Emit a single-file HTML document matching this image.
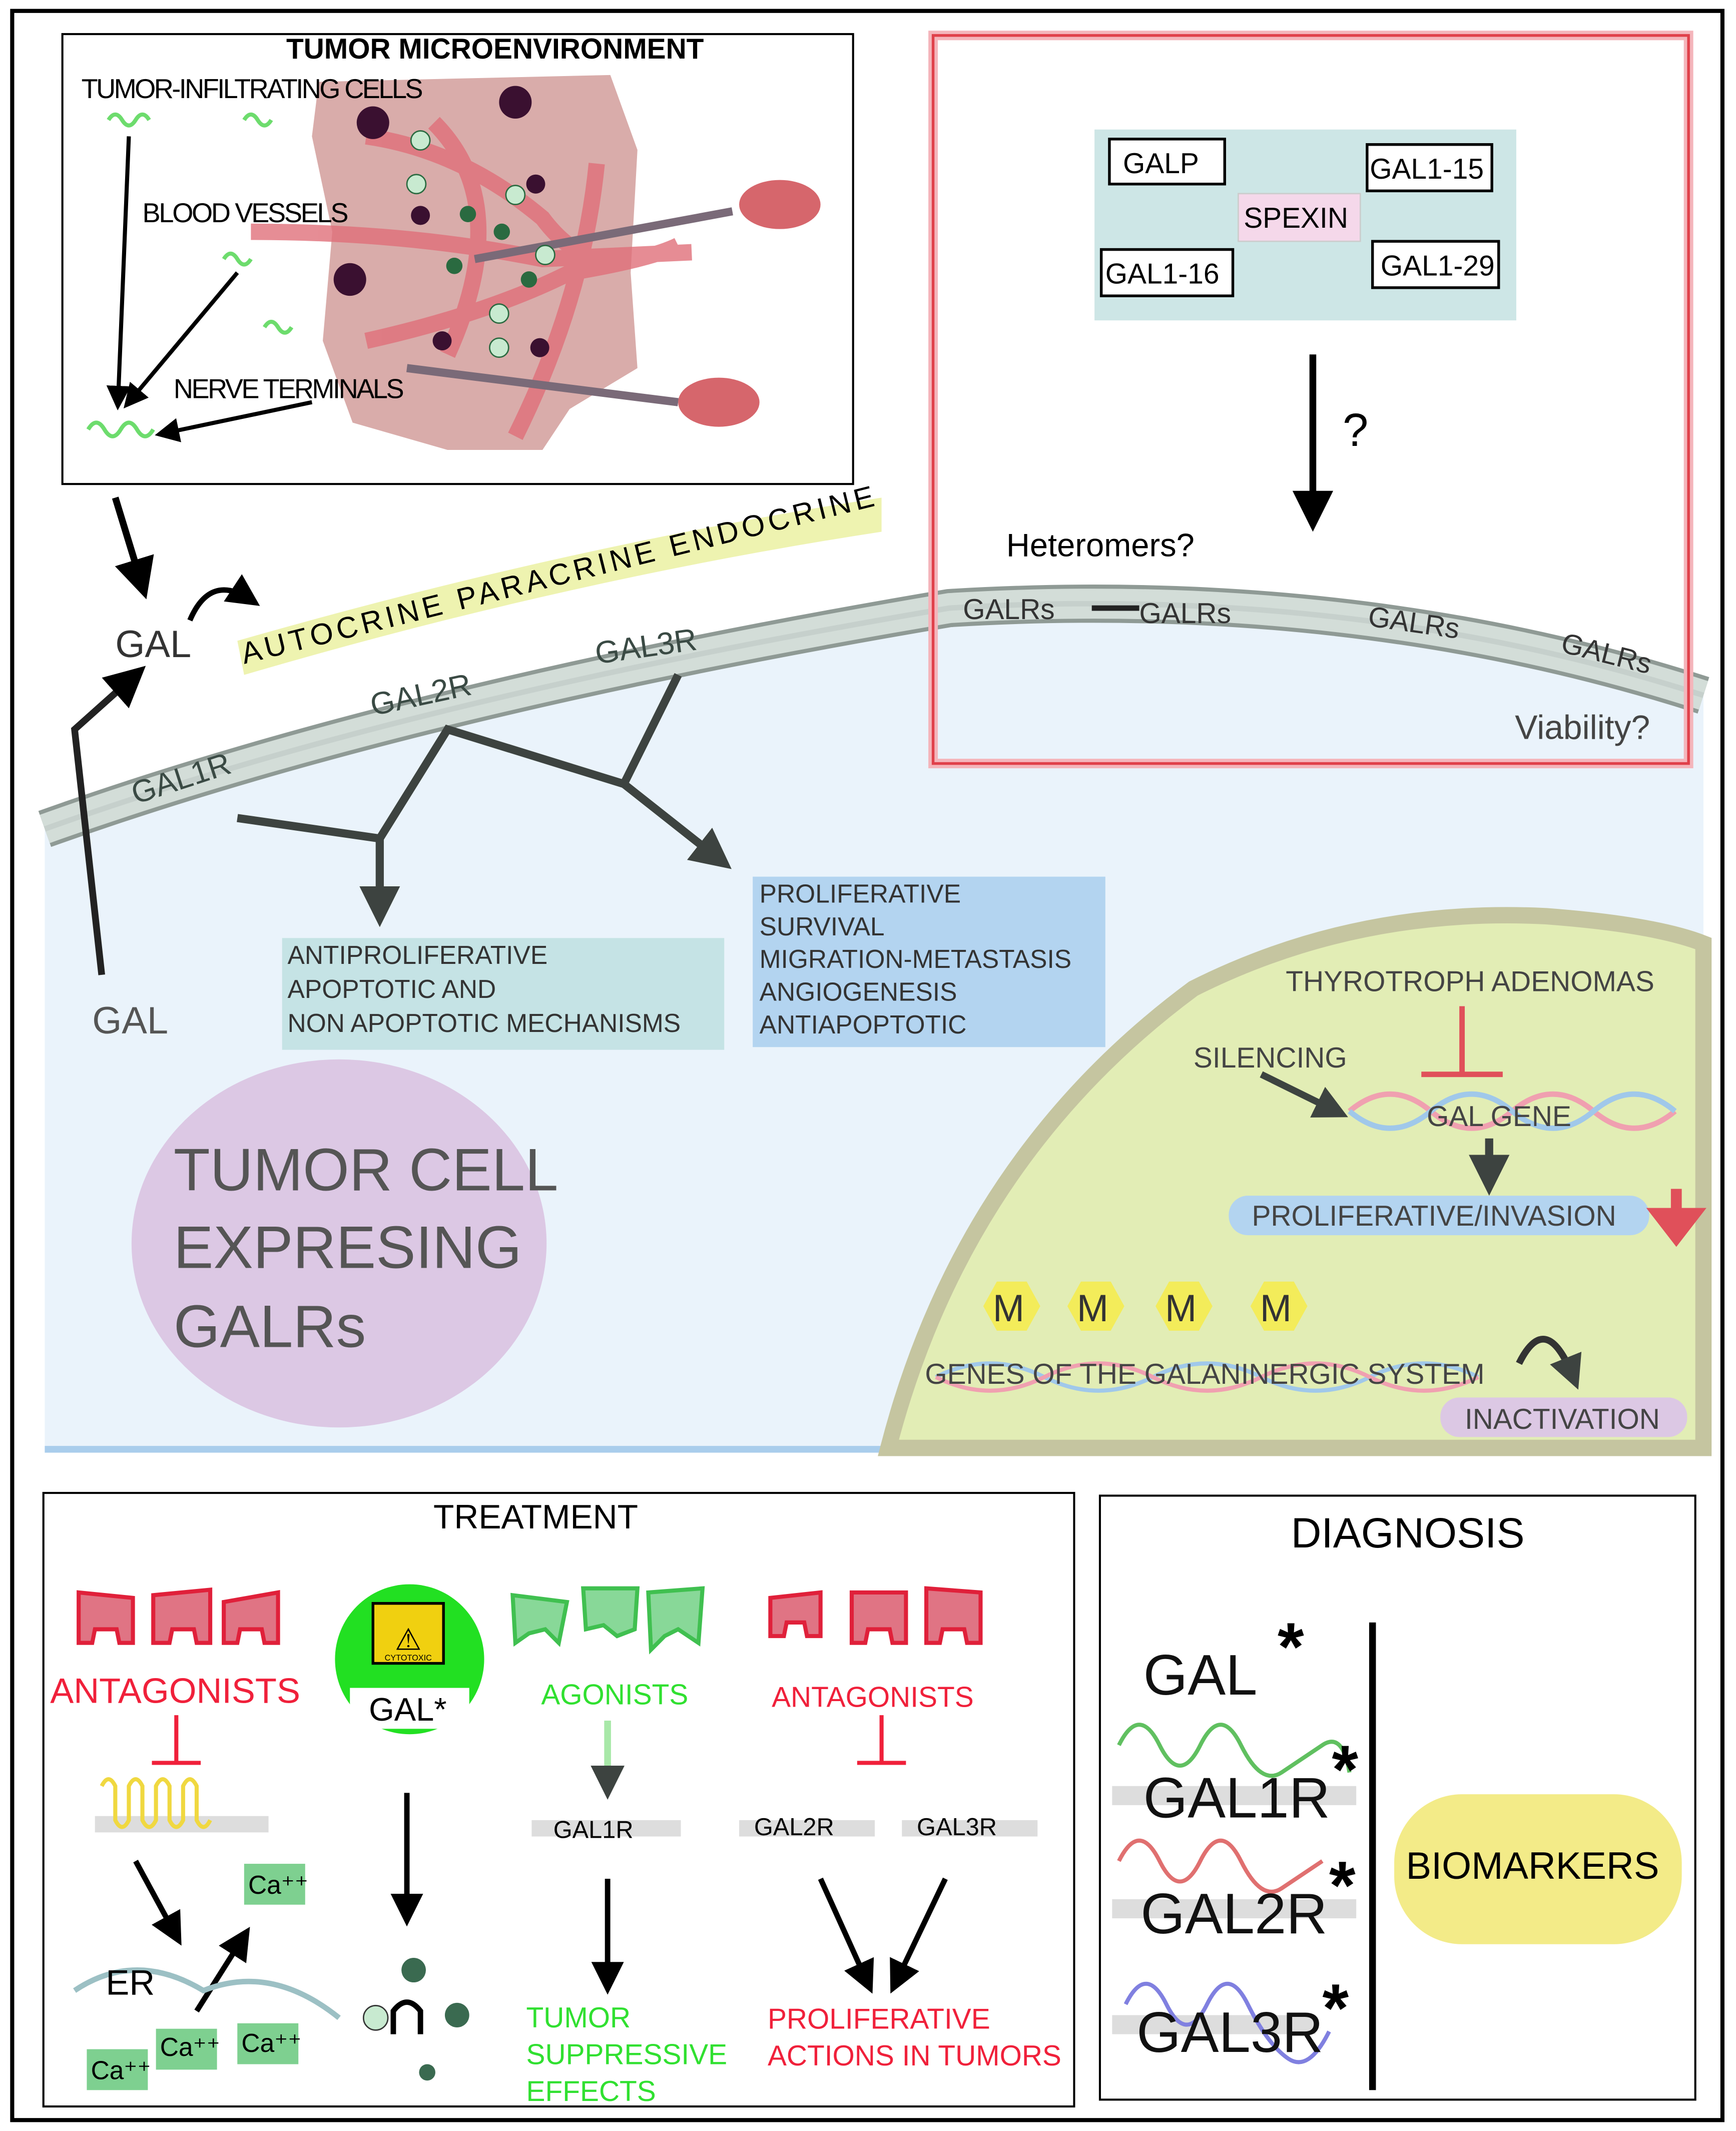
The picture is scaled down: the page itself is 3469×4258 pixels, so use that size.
<!DOCTYPE html>
<html><head><meta charset="utf-8"><style>
html,body{margin:0;padding:0;background:#fff;}
svg{display:block;}
text{font-family:"Liberation Sans",Arial,sans-serif;}
</style></head><body>
<svg width="3469" height="4258" viewBox="0 0 1280 1563" preserveAspectRatio="none" xmlns="http://www.w3.org/2000/svg">
<defs>
<marker id="ah" markerWidth="6" markerHeight="6" refX="4" refY="3" orient="auto" markerUnits="strokeWidth"><path d="M0,0 L6,3 L0,6 z" fill="#000"/></marker>
<marker id="ahg" markerWidth="5" markerHeight="5" refX="3" refY="2.5" orient="auto" markerUnits="strokeWidth"><path d="M0,0 L5,2.5 L0,5 z" fill="#3d4340"/></marker>
</defs>
<rect x="0" y="0" width="1280" height="1563" fill="#fff"/>
<rect x="9" y="8" width="1261" height="1547" fill="none" stroke="#000" stroke-width="3"/>

<path d="M33,595 Q300,500 700,437 Q1000,420 1256,500 L1256,1063 L33,1063 Z" fill="#eaf3fb"/>
<line x1="33" y1="1063" x2="1256" y2="1063" stroke="#a9cdec" stroke-width="5"/>
<path d="M33,608 Q300,513 700,446 Q1000,428 1256,510" fill="none" stroke="#8f9a95" stroke-width="28"/>
<path d="M33,608 Q300,513 700,446 Q1000,428 1256,510" fill="none" stroke="#d3ddd8" stroke-width="22"/>
<path d="M33,608 Q300,513 700,446 Q1000,428 1256,510" fill="none" stroke="#c6d0cc" stroke-width="4"/>

<path d="M655,1062 Q710,850 880,725 Q1000,665 1140,672 Q1220,678 1256,692 L1256,1062 Z" fill="#e2edb5" stroke="#c5c5a0" stroke-width="12"/>

<rect x="46" y="25" width="583" height="330" fill="#fff" stroke="#000" stroke-width="1.5"/>
<path d="M235,60 L450,55 L470,110 L465,200 L470,270 L420,300 L400,330 L330,330 L260,310 L238,250 L245,170 L230,100 Z" fill="#d9acaa"/>
<g fill="none" stroke="#e0707a" stroke-width="12" opacity="0.8">
<path d="M270,100 Q340,110 400,160 Q430,200 470,190"/>
<path d="M185,170 Q300,170 400,190 L510,185"/>
<path d="M320,90 Q380,150 330,260"/>
<path d="M440,120 Q430,220 380,320"/>
<path d="M270,250 Q360,230 420,200 Q480,190 500,180"/>
</g>
<line x1="350" y1="190" x2="540" y2="155" stroke="#7a6a78" stroke-width="6"/>
<line x1="300" y1="270" x2="500" y2="295" stroke="#7a6a78" stroke-width="6"/>
<g fill="#d6666c"><ellipse cx="575" cy="150" rx="30" ry="18"/><ellipse cx="530" cy="295" rx="30" ry="18"/></g>
<g fill="#3a1030"><circle cx="275" cy="90" r="12"/><circle cx="380" cy="75" r="12"/><circle cx="258" cy="205" r="12"/><circle cx="310" cy="158" r="7"/><circle cx="395" cy="135" r="7"/><circle cx="326" cy="250" r="7"/><circle cx="398" cy="255" r="7"/></g>
<g fill="#2a6a40"><circle cx="345" cy="157" r="6"/><circle cx="335" cy="195" r="6"/><circle cx="390" cy="205" r="6"/><circle cx="370" cy="170" r="6"/></g>
<g fill="#c8ead0" stroke="#2a6a40"><circle cx="310" cy="103" r="7"/><circle cx="307" cy="135" r="7"/><circle cx="380" cy="143" r="7"/><circle cx="402" cy="187" r="7"/><circle cx="368" cy="230" r="7"/><circle cx="368" cy="255" r="7"/></g>
<g fill="none" stroke="#6ddc6d" stroke-width="3"><path d="M80,88 q5,-8 10,0 t10,0 t10,0"/><path d="M180,88 q5,-8 10,0 t10,0"/><path d="M165,190 q5,-8 10,0 t10,0"/><path d="M195,240 q5,-8 10,0 t10,0"/><path d="M65,315 q6,-10 12,0 t12,0 t12,0 t12,0"/></g>
<text x="365" y="43" font-size="21" text-anchor="middle" font-weight="bold">TUMOR MICROENVIRONMENT</text>
<text x="60" y="72" font-size="20" textLength="252">TUMOR-INFILTRATING CELLS</text>
<text x="105" y="163" font-size="20" textLength="152">BLOOD VESSELS</text>
<text x="128" y="292" font-size="20" textLength="170">NERVE TERMINALS</text>
<g stroke="#000" stroke-width="3" marker-end="url(#ah)"><line x1="95" y1="100" x2="87" y2="295"/><line x1="175" y1="200" x2="95" y2="295"/><line x1="230" y1="295" x2="120" y2="318"/></g>

<rect x="688" y="26" width="557" height="534" fill="none" stroke="#f4b5bb" stroke-width="7"/>
<rect x="688" y="26" width="557" height="534" fill="none" stroke="#e0404a" stroke-width="2"/>
<rect x="807" y="95" width="311" height="140" fill="#cde6e6"/>
<g stroke="#000" stroke-width="2" fill="#fff">
<rect x="818" y="102" width="85" height="33"/><rect x="1008" y="106" width="92" height="34"/><rect x="812" y="183" width="97" height="34"/><rect x="1012" y="177" width="93" height="34"/></g>
<rect x="913" y="142" width="90" height="35" fill="#f5d8ea" stroke="#ccc"/>
<g font-size="21"><text x="828" y="127">GALP</text><text x="1010" y="131">GAL1-15</text><text x="917" y="167">SPEXIN</text><text x="815" y="208">GAL1-16</text><text x="1018" y="202">GAL1-29</text></g>
<line x1="968" y1="260" x2="968" y2="380" stroke="#000" stroke-width="5" marker-end="url(#ah)"/>
<text x="990" y="327" font-size="34">?</text>
<text x="742" y="408" font-size="24">Heteromers?</text>
<text x="1117" y="542" font-size="25" fill="#444">Viability?</text>
<g font-size="21" fill="#333"><text x="710" y="454">GALRs</text><text x="840" y="457">GALRs</text><line x1="805" y1="446" x2="840" y2="446" stroke="#222" stroke-width="4"/>
<text x="1008" y="459" transform="rotate(8 1008 459)">GALRs</text><text x="1150" y="478" transform="rotate(14 1150 478)">GALRs</text></g>

<path d="M175,470 Q420,400 650,365 L650,390 Q420,425 180,495 Z" fill="#eef3b0"/>
<text x="180" y="487" font-size="22" transform="rotate(-14 180 487)" textLength="480">AUTOCRINE  PARACRINE  ENDOCRINE</text>
<text x="85" y="482" font-size="28" fill="#333">GAL</text>
<text x="68" y="758" font-size="28" fill="#555">GAL</text>
<line x1="85" y1="365" x2="105" y2="430" stroke="#000" stroke-width="5" marker-end="url(#ah)"/>
<path d="M140,455 Q155,420 185,440" fill="none" stroke="#000" stroke-width="4" marker-end="url(#ah)"/>
<path d="M75,715 L55,535 L100,495" fill="none" stroke="#222" stroke-width="5" marker-end="url(#ah)"/>
<g font-size="23" fill="#3a4a44">
<text x="100" y="590" transform="rotate(-18 100 590)">GAL1R</text>
<text x="275" y="525" transform="rotate(-12 275 525)">GAL2R</text>
<text x="440" y="487" transform="rotate(-8 440 487)">GAL3R</text></g>

<g stroke="#3d4340" stroke-width="6" fill="none">
<path d="M175,600 L280,615"/><path d="M280,615 L330,535 L460,575"/><path d="M460,575 L500,495"/>
<path d="M280,615 L280,668" marker-end="url(#ahg)"/><path d="M460,575 L530,630" marker-end="url(#ahg)"/></g>
<rect x="208" y="688" width="326" height="82" fill="#c5e3e5"/>
<g font-size="19" fill="#333"><text x="212" y="707">ANTIPROLIFERATIVE</text><text x="212" y="732">APOPTOTIC AND</text><text x="212" y="757">NON APOPTOTIC MECHANISMS</text></g>
<rect x="555" y="643" width="260" height="125" fill="#b3d4f0"/>
<g font-size="19" fill="#333"><text x="560" y="662">PROLIFERATIVE</text><text x="560" y="686">SURVIVAL</text><text x="560" y="710">MIGRATION-METASTASIS</text><text x="560" y="734">ANGIOGENESIS</text><text x="560" y="758">ANTIAPOPTOTIC</text></g>

<ellipse cx="250" cy="912" rx="153" ry="135" fill="#dcc8e4"/>
<g font-size="44" fill="#555"><text x="128" y="873">TUMOR CELL</text><text x="128" y="930">EXPRESING</text><text x="128" y="988">GALRs</text></g>

<text x="948" y="727" font-size="21" fill="#444">THYROTROPH ADENOMAS</text>
<path d="M1078,738 L1078,788 M1048,788 L1108,788" stroke="#e0505a" stroke-width="4" fill="none"/>
<text x="880" y="783" font-size="21" fill="#444">SILENCING</text>
<line x1="930" y1="788" x2="985" y2="815" stroke="#3d4340" stroke-width="5" marker-end="url(#ahg)"/>
<path d="M995,815 q30,-25 60,0 t60,0 t60,0 t60,0" fill="none" stroke="#f0a0b0" stroke-width="4"/>
<path d="M995,815 q30,25 60,0 t60,0 t60,0 t60,0" fill="none" stroke="#a0c8ea" stroke-width="4"/>
<text x="1052" y="826" font-size="21" fill="#444">GAL GENE</text>
<line x1="1098" y1="835" x2="1098" y2="865" stroke="#3d4340" stroke-width="6" marker-end="url(#ahg)"/>
<rect x="906" y="877" width="310" height="29" rx="14" fill="#b3d4f0"/>
<text x="923" y="899" font-size="21" fill="#444">PROLIFERATIVE/INVASION</text>
<path d="M1236,872 L1236,890 M1222,890 L1250,890 L1236,908 Z" stroke="#e0505a" stroke-width="8" fill="#e0505a"/>
<g fill="#f3ec5a"><polygon points="725,958 735,940 757,940 767,958 757,976 735,976"/><polygon points="787,958 797,940 819,940 829,958 819,976 797,976"/><polygon points="852,958 862,940 884,940 894,958 884,976 862,976"/><polygon points="922,958 932,940 954,940 964,958 954,976 932,976"/></g>
<g font-size="28" fill="#333"><text x="732" y="969">M</text><text x="794" y="969">M</text><text x="859" y="969">M</text><text x="929" y="969">M</text></g>
<path d="M690,1010 q40,-20 80,0 t80,0 t80,0 t80,0 t80,0" fill="none" stroke="#a0c8ea" stroke-width="3"/>
<path d="M690,1010 q40,20 80,0 t80,0 t80,0 t80,0 t80,0" fill="none" stroke="#f0a0b0" stroke-width="3"/>
<text x="682" y="1015" font-size="21" fill="#444">GENES OF THE GALANINERGIC SYSTEM</text>
<path d="M1120,1000 Q1140,960 1160,1010" fill="none" stroke="#333" stroke-width="5" marker-end="url(#ahg)"/>
<rect x="1062" y="1025" width="182" height="29" rx="14" fill="#dcc8e4"/>
<text x="1080" y="1048" font-size="21" fill="#444">INACTIVATION</text>

<rect x="32" y="1095" width="760" height="450" fill="#fff" stroke="#000" stroke-width="1.5"/>
<text x="395" y="1121" font-size="25" text-anchor="middle">TREATMENT</text>
<g fill="#e07484" stroke="#e0203a" stroke-width="3">
<path d="M58,1168 L98,1172 L98,1205 L88,1205 L86,1195 L70,1195 L68,1205 L58,1205 Z"/>
<path d="M113,1170 L155,1166 L155,1205 L145,1205 L143,1195 L127,1195 L125,1205 L113,1205 Z"/>
<path d="M165,1175 L205,1168 L205,1205 L195,1205 L193,1195 L177,1195 L175,1205 L165,1205 Z"/>
<path d="M568,1172 L605,1168 L605,1200 L595,1200 L593,1190 L580,1190 L578,1200 L568,1200 Z"/>
<path d="M628,1168 L668,1168 L668,1205 L658,1205 L656,1195 L640,1195 L638,1205 L628,1205 Z"/>
<path d="M683,1165 L723,1168 L723,1205 L713,1205 L711,1195 L695,1195 L693,1205 L683,1205 Z"/></g>
<g fill="#88d898" stroke="#40c050" stroke-width="3">
<path d="M378,1170 L418,1175 L412,1205 L402,1195 L390,1198 L380,1205 Z"/>
<path d="M430,1165 L470,1165 L468,1195 L455,1200 L445,1192 L432,1195 Z"/>
<path d="M478,1168 L518,1165 L515,1205 L500,1195 L490,1200 L480,1210 Z"/></g>
<text x="37" y="1249" font-size="26" fill="#f0203a">ANTAGONISTS</text>
<text x="399" y="1250" font-size="21" fill="#30e030">AGONISTS</text>
<text x="569" y="1252" font-size="21" fill="#f0203a">ANTAGONISTS</text>
<path d="M130,1258 L130,1293 M112,1293 L148,1293" stroke="#f0203a" stroke-width="3"/>
<path d="M650,1258 L650,1293 M632,1293 L668,1293" stroke="#f0203a" stroke-width="3"/>
<circle cx="302" cy="1217" r="55" fill="#22e022"/>
<polygon points="275,1176 327,1176 327,1220 275,1220" fill="#f0d010" stroke="#000" stroke-width="2"/>
<text x="301" y="1210" font-size="22" text-anchor="middle">⚠</text>
<text x="301" y="1218" font-size="6" text-anchor="middle">CYTOTOXIC</text>
<rect x="258" y="1238" width="88" height="30" fill="#fff"/>
<text x="272" y="1262" font-size="24">GAL*</text>
<path d="M448,1262 L448,1310" stroke="#a8e8a8" stroke-width="5" marker-end="url(#ahg)"/>
<rect x="70" y="1332" width="128" height="12" fill="#ddd"/>
<path d="M75,1310 q5,-10 10,0 l0,25 q5,10 10,0 l0,-25 q5,-10 10,0 l0,25 q5,10 10,0 l0,-25 q5,-10 10,0 l0,25 q5,10 10,0 l0,-25 q5,-10 10,0 l0,25 q5,10 10,0" fill="none" stroke="#f0d840" stroke-width="3"/>
<rect x="392" y="1335" width="110" height="12" fill="#ddd"/><text x="408" y="1348" font-size="18">GAL1R</text>
<rect x="545" y="1335" width="100" height="12" fill="#ddd"/><text x="556" y="1346" font-size="18">GAL2R</text>
<rect x="665" y="1335" width="100" height="12" fill="#ddd"/><text x="676" y="1346" font-size="18">GAL3R</text>
<g stroke="#000" stroke-width="4" marker-end="url(#ah)">
<line x1="100" y1="1365" x2="130" y2="1420"/><line x1="145" y1="1475" x2="180" y2="1420"/>
<line x1="300" y1="1315" x2="300" y2="1405"/><line x1="448" y1="1378" x2="448" y2="1455"/>
<line x1="605" y1="1378" x2="640" y2="1455"/><line x1="697" y1="1378" x2="660" y2="1455"/></g>
<path d="M55,1460 Q100,1430 150,1460 Q200,1440 250,1480" fill="none" stroke="#9cc0c4" stroke-width="4"/>
<text x="78" y="1463" font-size="26">ER</text>
<g fill="#7ed090"><rect x="180" y="1367" width="45" height="30"/><rect x="64" y="1503" width="45" height="30"/><rect x="115" y="1488" width="45" height="30"/><rect x="175" y="1484" width="45" height="30"/></g>
<g font-size="19"><text x="183" y="1389">Ca⁺⁺</text><text x="67" y="1525">Ca⁺⁺</text><text x="118" y="1508">Ca⁺⁺</text><text x="178" y="1505">Ca⁺⁺</text></g>
<g fill="#3a6a50"><circle cx="305" cy="1445" r="9"/><circle cx="337" cy="1478" r="9"/><circle cx="315" cy="1520" r="6"/></g>
<circle cx="277" cy="1480" r="9" fill="#c8ead0" stroke="#333"/>
<path d="M290,1492 L290,1475 Q300,1462 310,1475 L310,1492" fill="none" stroke="#000" stroke-width="4"/>
<g font-size="21" fill="#30e030"><text x="388" y="1487">TUMOR</text><text x="388" y="1514">SUPPRESSIVE</text><text x="388" y="1541">EFFECTS</text></g>
<g font-size="21" fill="#f0203a"><text x="566" y="1488">PROLIFERATIVE</text><text x="566" y="1515">ACTIONS IN TUMORS</text></g>

<rect x="811" y="1097" width="439" height="443" fill="#fff" stroke="#000" stroke-width="1.5"/>
<text x="1038" y="1135" font-size="31" text-anchor="middle">DIAGNOSIS</text>
<line x1="1012" y1="1190" x2="1012" y2="1533" stroke="#000" stroke-width="5"/>
<rect x="1028" y="1316" width="212" height="110" rx="50" fill="#f3eb88"/>
<text x="1130" y="1378" font-size="28" text-anchor="middle">BIOMARKERS</text>
<rect x="820" y="1310" width="180" height="14" fill="#ddd"/><rect x="820" y="1393" width="180" height="14" fill="#ddd"/><rect x="820" y="1478" width="150" height="14" fill="#ddd"/>
<path d="M825,1280 q15,-30 30,0 t30,0 t30,0 t30,20 t30,-20 t20,20" fill="none" stroke="#60c060" stroke-width="3"/>
<path d="M825,1365 q15,-30 30,0 t30,0 t30,0 t30,20 t30,-20" fill="none" stroke="#e07070" stroke-width="3"/>
<path d="M830,1470 q15,-30 30,0 t30,0 t30,0 t30,40 t30,-20" fill="none" stroke="#8080e0" stroke-width="3"/>
<g font-size="42" fill="#111"><text x="843" y="1243">GAL</text><text x="843" y="1333">GAL1R</text><text x="841" y="1418">GAL2R</text><text x="838" y="1505">GAL3R</text></g>
<g font-size="50" font-weight="bold"><text x="942" y="1225">*</text><text x="982" y="1315">*</text><text x="980" y="1400">*</text><text x="975" y="1490">*</text></g>
</svg>
</body></html>
